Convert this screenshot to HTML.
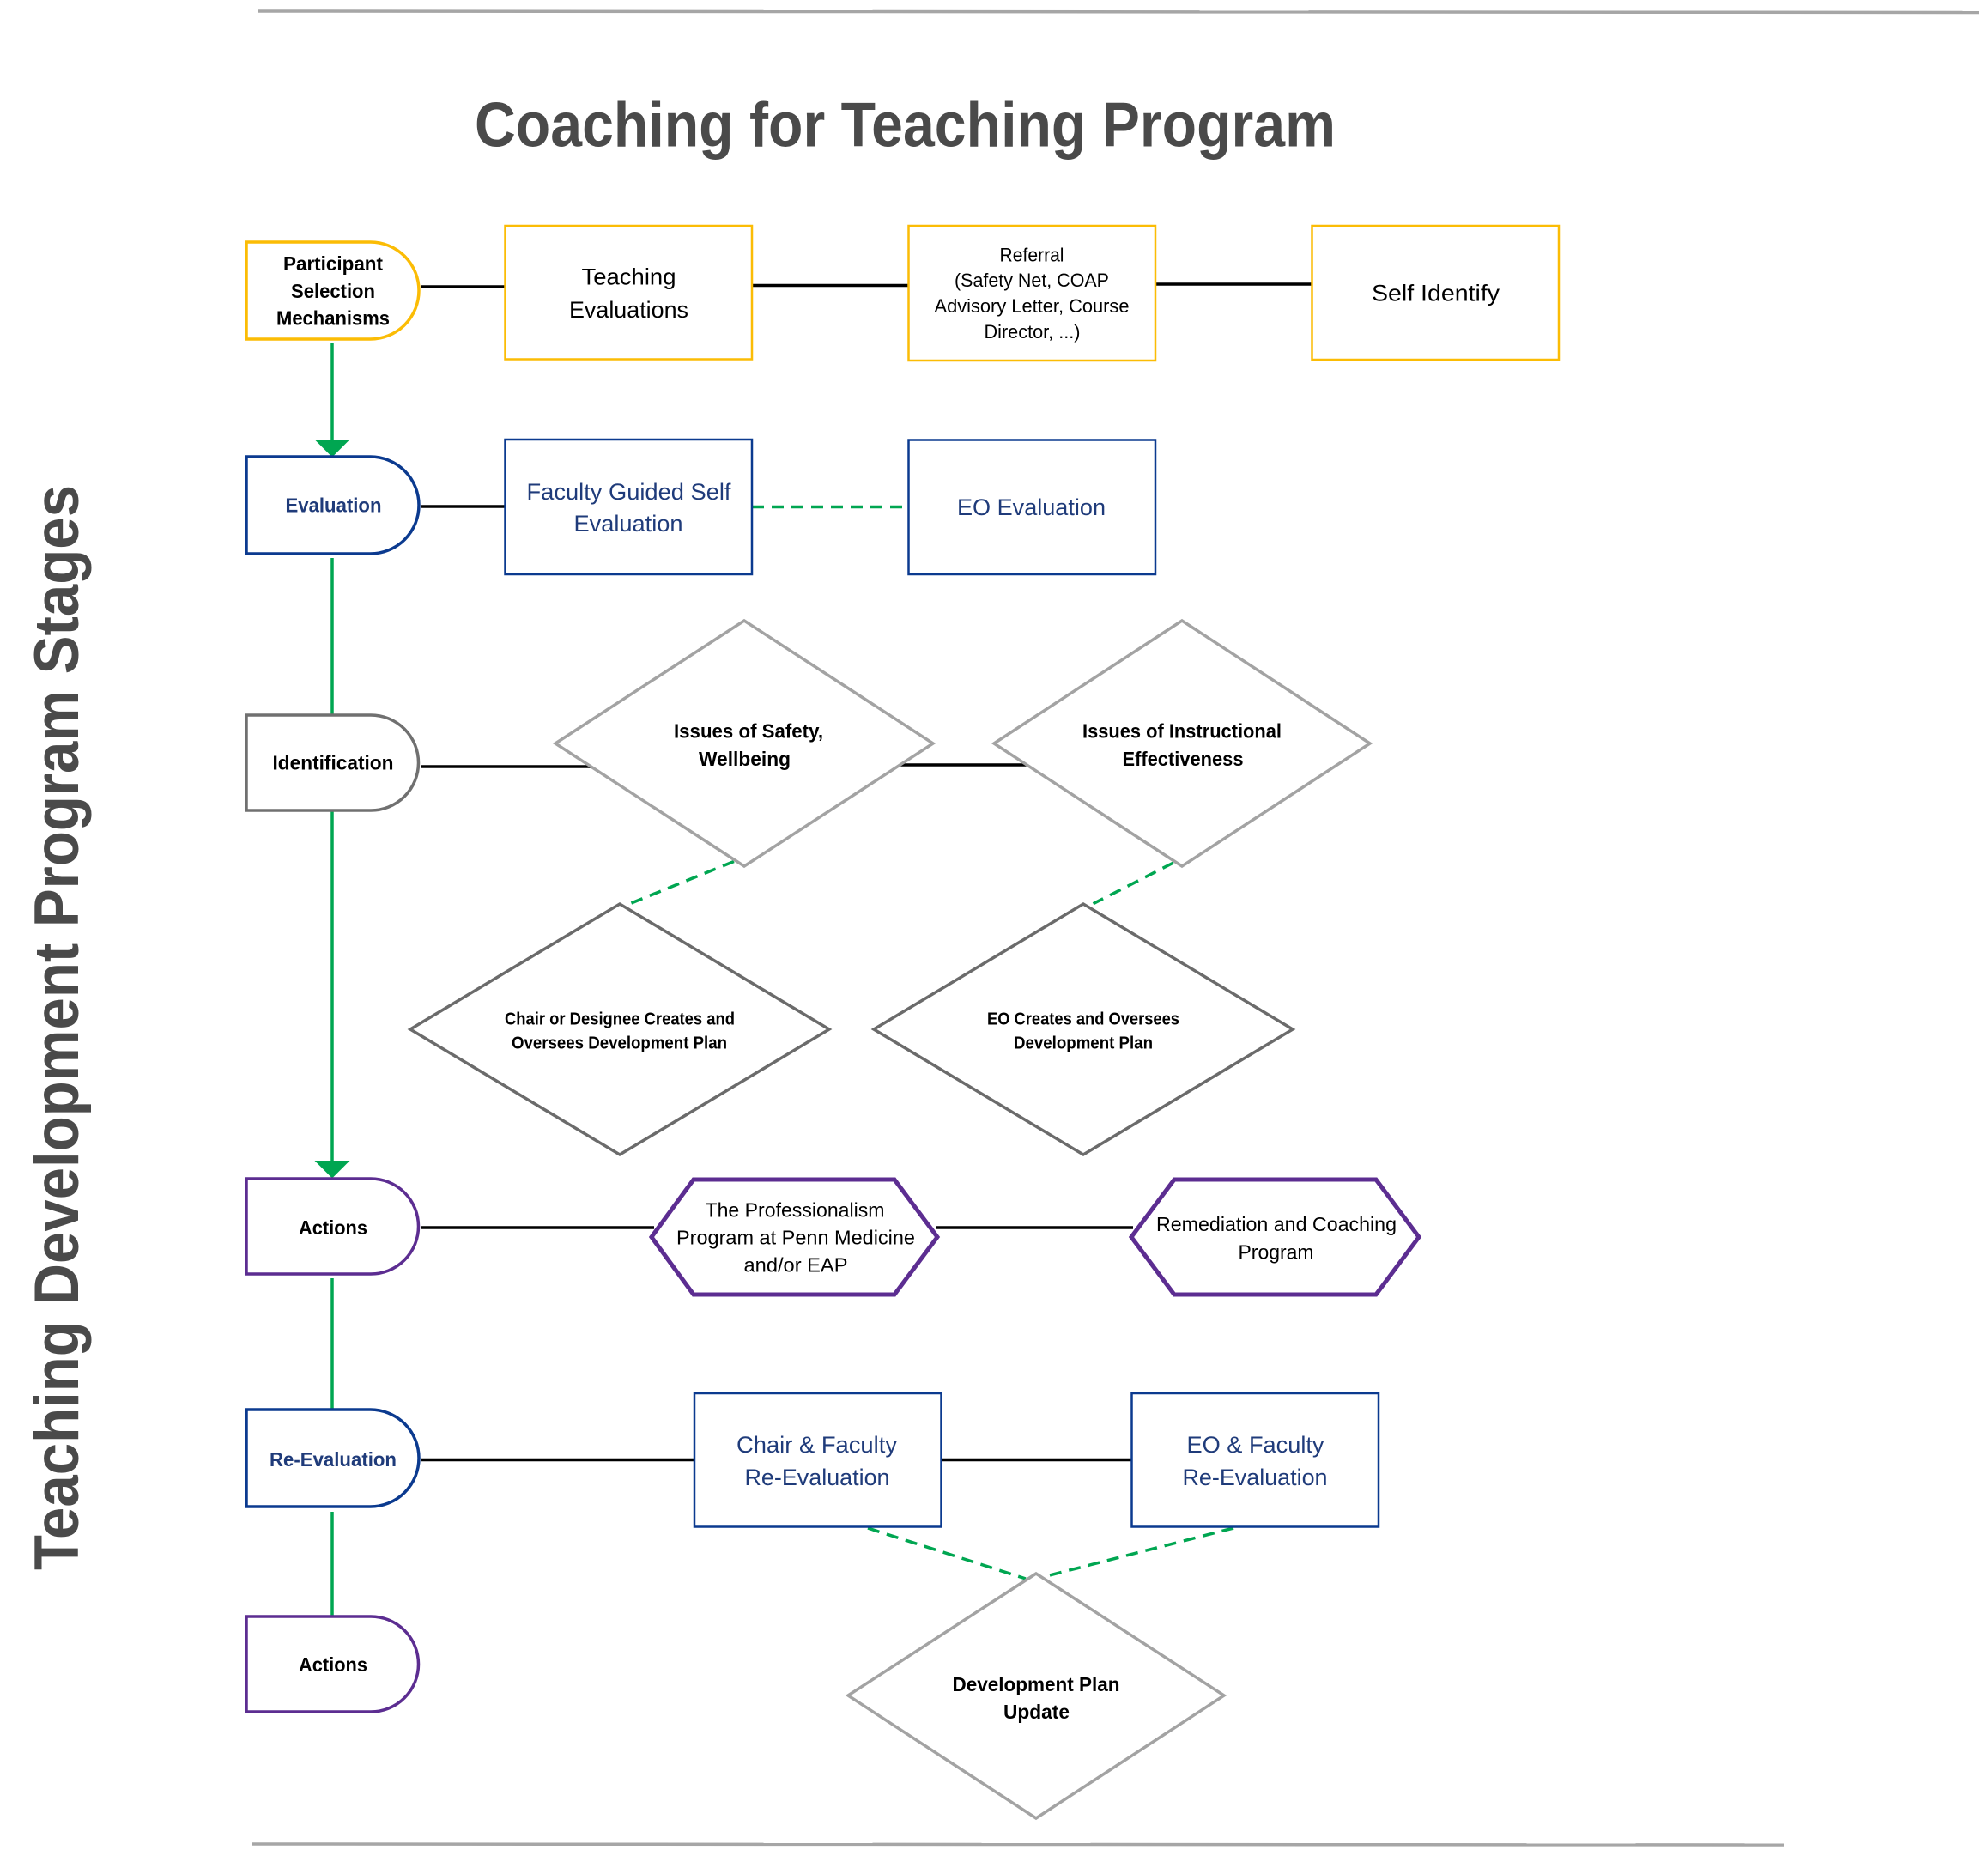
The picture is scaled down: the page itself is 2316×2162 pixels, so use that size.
<!DOCTYPE html>
<html>
<head>
<meta charset="utf-8">
<style>
  html, body { margin:0; padding:0; background:#ffffff; }
  body { width:2316px; height:2162px; overflow:hidden; }
  svg { display:block; }
  text { font-family: "Liberation Sans", sans-serif; }
</style>
</head>
<body>
<svg width="2316" height="2162" viewBox="0 0 2316 2162" xmlns="http://www.w3.org/2000/svg">
  <rect x="0" y="0" width="2316" height="2162" fill="#ffffff"/>

  <!-- top and bottom rules -->
  <line x1="301" y1="13" x2="2305" y2="14.5" stroke="#a6a6a6" stroke-width="3.5"/>
  <line x1="293" y1="2148" x2="2078" y2="2149" stroke="#a6a6a6" stroke-width="3.5"/>

  <!-- Title -->
  <text x="553" y="170.5" font-size="73" font-weight="bold" fill="#4a4a4a" textLength="1003" lengthAdjust="spacingAndGlyphs">Coaching for Teaching Program</text>

  <!-- Side title -->
  <g transform="translate(91,1829) rotate(-90)">
    <text x="0" y="0" font-size="73" font-weight="bold" fill="#4a4a4a" textLength="1264" lengthAdjust="spacingAndGlyphs">Teaching Development Program Stages</text>
  </g>

  <!-- Green vertical flow -->
  <g stroke="#00a651" stroke-width="3.5" fill="none">
    <line x1="387" y1="399" x2="387" y2="514"/>
    <line x1="387" y1="650" x2="387" y2="833"/>
    <line x1="387" y1="944" x2="387" y2="1354"/>
    <line x1="387" y1="1489" x2="387" y2="1642"/>
    <line x1="387" y1="1761" x2="387" y2="1883"/>
  </g>
  <polygon points="366.5,512 407.5,512 387,532.5" fill="#00a651"/>
  <polygon points="366.5,1352 407.5,1352 387,1372.5" fill="#00a651"/>

  <!-- Black connectors -->
  <g stroke="#000000" stroke-width="3.5" fill="none">
    <line x1="490" y1="334" x2="588" y2="334"/>
    <line x1="876" y1="332.5" x2="1058" y2="332.5"/>
    <line x1="1346" y1="331" x2="1528" y2="331"/>
    <line x1="490" y1="590" x2="588" y2="590"/>
    <line x1="490" y1="893" x2="688" y2="893"/>
    <line x1="1048" y1="891" x2="1196" y2="891"/>
    <line x1="490" y1="1430" x2="762" y2="1430"/>
    <line x1="1090" y1="1430" x2="1320" y2="1430"/>
    <line x1="490" y1="1700.5" x2="809" y2="1700.5"/>
    <line x1="1096" y1="1700.5" x2="1318" y2="1700.5"/>
  </g>

  <!-- Green dashed connectors -->
  <g stroke="#00a651" stroke-width="3.5" fill="none" stroke-dasharray="14 9">
    <line x1="876" y1="590.5" x2="1058" y2="590.5"/>
    <line x1="855" y1="1003.5" x2="728" y2="1055"/>
    <line x1="1367" y1="1005" x2="1273.6" y2="1052.7"/>
    <line x1="1011" y1="1780" x2="1195" y2="1839"/>
    <line x1="1437" y1="1780" x2="1215" y2="1837"/>
  </g>

  <!-- Stage terminators -->
  <g fill="#ffffff" stroke-width="3.5">
    <path d="M287,282 H431.5 A56.5,56.5 0 0 1 431.5,395 H287 Z" stroke="#fbbc05"/>
    <path d="M287,532 H431.5 A56.5,56.5 0 0 1 431.5,645 H287 Z" stroke="#0b3a8f"/>
    <path d="M287,833 H432 A55.5,55.5 0 0 1 432,944 H287 Z" stroke="#707070"/>
    <path d="M287,1373 H432 A55.5,55.5 0 0 1 432,1484 H287 Z" stroke="#5c2d91"/>
    <path d="M287,1642 H431.5 A56.5,56.5 0 0 1 431.5,1755 H287 Z" stroke="#0b3a8f"/>
    <path d="M287,1883 H432 A55.5,55.5 0 0 1 432,1994 H287 Z" stroke="#5c2d91"/>
  </g>

  <!-- Boxes -->
  <g fill="#ffffff" stroke-width="2.5">
    <rect x="588.5" y="263" width="287.5" height="155.5" stroke="#fbbc05"/>
    <rect x="1058.5" y="263" width="287.5" height="157" stroke="#fbbc05"/>
    <rect x="1528.5" y="263" width="287.5" height="156" stroke="#fbbc05"/>
    <rect x="588.5" y="512" width="287.5" height="157" stroke="#0b3a8f"/>
    <rect x="1058.5" y="512.5" width="287.5" height="156.5" stroke="#0b3a8f"/>
    <rect x="809" y="1623" width="287.5" height="155.5" stroke="#0b3a8f"/>
    <rect x="1318.5" y="1623" width="287.5" height="155.5" stroke="#0b3a8f"/>
  </g>

  <!-- Diamonds -->
  <g fill="#ffffff" stroke-width="3.5">
    <polygon points="647,866 867,723 1087,866 867,1009" stroke="#a3a3a3"/>
    <polygon points="1158,866 1377,723 1596,866 1377,1009" stroke="#a3a3a3"/>
    <polygon points="478,1199 722,1053 966,1199 722,1345" stroke="#6b6b6b"/>
    <polygon points="1018,1199 1262,1053 1506,1199 1262,1345" stroke="#6b6b6b"/>
    <polygon points="988,1975 1207,1833 1426,1975 1207,2118" stroke="#a3a3a3"/>
  </g>

  <!-- Hexagons -->
  <g fill="#ffffff" stroke="#5c2d91" stroke-width="5" stroke-linejoin="miter">
    <polygon points="759,1441 808,1374 1042,1374 1092,1441 1042,1508 808,1508"/>
    <polygon points="1318,1441 1368,1374 1603,1374 1653,1441 1603,1508 1368,1508"/>
  </g>

  <!-- Stage labels -->
  <g font-weight="bold" font-size="23" text-anchor="middle">
    <text x="388" y="315" fill="#000" textLength="116" lengthAdjust="spacingAndGlyphs">Participant</text>
    <text x="388" y="346.8" fill="#000" textLength="98" lengthAdjust="spacingAndGlyphs">Selection</text>
    <text x="388" y="378.6" fill="#000" textLength="132" lengthAdjust="spacingAndGlyphs">Mechanisms</text>
    <text x="388.5" y="596.3" fill="#1f3b7a" textLength="112" lengthAdjust="spacingAndGlyphs">Evaluation</text>
    <text x="388" y="896.4" fill="#000" textLength="141" lengthAdjust="spacingAndGlyphs">Identification</text>
    <text x="388" y="1437.8" fill="#000" textLength="80" lengthAdjust="spacingAndGlyphs">Actions</text>
    <text x="388" y="1708" fill="#1f3b7a" textLength="148" lengthAdjust="spacingAndGlyphs">Re-Evaluation</text>
    <text x="388" y="1947" fill="#000" textLength="80" lengthAdjust="spacingAndGlyphs">Actions</text>
  </g>

  <!-- Box labels -->
  <g text-anchor="middle">
    <text x="732.5" y="331.5" font-size="27" fill="#000" textLength="110" lengthAdjust="spacingAndGlyphs">Teaching</text>
    <text x="732.5" y="369.8" font-size="27" fill="#000" textLength="139" lengthAdjust="spacingAndGlyphs">Evaluations</text>

    <text x="1202" y="304.3" font-size="22" fill="#000" textLength="75" lengthAdjust="spacingAndGlyphs">Referral</text>
    <text x="1202" y="334.2" font-size="22" fill="#000" textLength="180" lengthAdjust="spacingAndGlyphs">(Safety Net, COAP</text>
    <text x="1202" y="364" font-size="22" fill="#000" textLength="227" lengthAdjust="spacingAndGlyphs">Advisory Letter, Course</text>
    <text x="1202.5" y="393.9" font-size="22" fill="#000" textLength="112" lengthAdjust="spacingAndGlyphs">Director, ...)</text>

    <text x="1672.5" y="350.4" font-size="27" fill="#000" textLength="149" lengthAdjust="spacingAndGlyphs">Self Identify</text>

    <text x="732.5" y="582" font-size="27" fill="#1f3b7a" textLength="238" lengthAdjust="spacingAndGlyphs">Faculty Guided Self</text>
    <text x="732" y="619" font-size="27" fill="#1f3b7a" textLength="127" lengthAdjust="spacingAndGlyphs">Evaluation</text>

    <text x="1201.5" y="600" font-size="27" fill="#1f3b7a" textLength="173" lengthAdjust="spacingAndGlyphs">EO Evaluation</text>

    <text x="951.5" y="1691.8" font-size="27" fill="#1f3b7a" textLength="187" lengthAdjust="spacingAndGlyphs">Chair &amp; Faculty</text>
    <text x="952" y="1730" font-size="27" fill="#1f3b7a" textLength="169" lengthAdjust="spacingAndGlyphs">Re-Evaluation</text>

    <text x="1462.5" y="1691.8" font-size="27" fill="#1f3b7a" textLength="160" lengthAdjust="spacingAndGlyphs">EO &amp; Faculty</text>
    <text x="1462" y="1730" font-size="27" fill="#1f3b7a" textLength="169" lengthAdjust="spacingAndGlyphs">Re-Evaluation</text>
  </g>

  <!-- Diamond labels -->
  <g text-anchor="middle" font-weight="bold" fill="#000">
    <text x="872" y="859.4" font-size="23" textLength="174" lengthAdjust="spacingAndGlyphs">Issues of Safety,</text>
    <text x="867.5" y="892" font-size="23" textLength="107" lengthAdjust="spacingAndGlyphs">Wellbeing</text>

    <text x="1377" y="859.4" font-size="23" textLength="232" lengthAdjust="spacingAndGlyphs">Issues of Instructional</text>
    <text x="1378" y="892" font-size="23" textLength="141" lengthAdjust="spacingAndGlyphs">Effectiveness</text>

    <text x="722" y="1193.3" font-size="20" textLength="268" lengthAdjust="spacingAndGlyphs">Chair or Designee Creates and</text>
    <text x="721.5" y="1221.4" font-size="20" textLength="251" lengthAdjust="spacingAndGlyphs">Oversees Development Plan</text>

    <text x="1262" y="1193.3" font-size="20" textLength="224" lengthAdjust="spacingAndGlyphs">EO Creates and Oversees</text>
    <text x="1262" y="1221.4" font-size="20" textLength="162" lengthAdjust="spacingAndGlyphs">Development Plan</text>

    <text x="1207" y="1970" font-size="23" textLength="195" lengthAdjust="spacingAndGlyphs">Development Plan</text>
    <text x="1207.5" y="2002" font-size="23" textLength="77" lengthAdjust="spacingAndGlyphs">Update</text>
  </g>

  <!-- Hexagon labels -->
  <g text-anchor="middle" fill="#000">
    <text x="926" y="1417.3" font-size="23" textLength="209" lengthAdjust="spacingAndGlyphs">The Professionalism</text>
    <text x="927" y="1449.5" font-size="23" textLength="278" lengthAdjust="spacingAndGlyphs">Program at Penn Medicine</text>
    <text x="927" y="1481.6" font-size="23" textLength="121" lengthAdjust="spacingAndGlyphs">and/or EAP</text>

    <text x="1487" y="1434" font-size="23" textLength="280" lengthAdjust="spacingAndGlyphs">Remediation and Coaching</text>
    <text x="1486.5" y="1466.3" font-size="23" textLength="88" lengthAdjust="spacingAndGlyphs">Program</text>
  </g>
</svg>
</body>
</html>
